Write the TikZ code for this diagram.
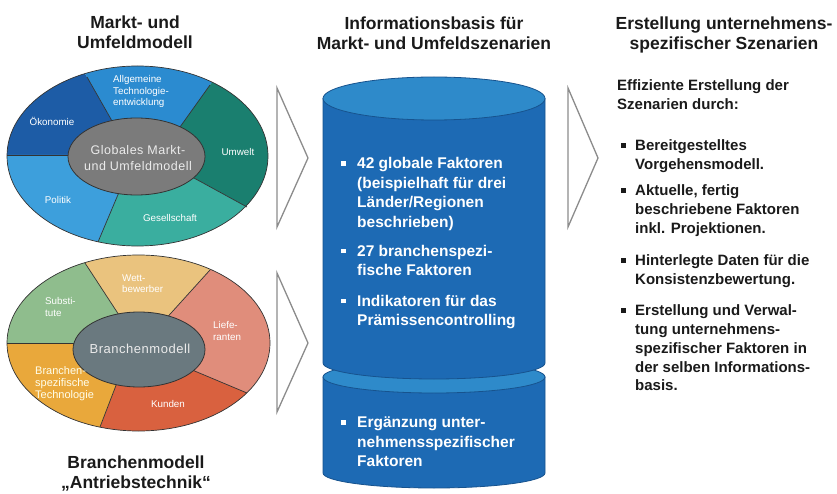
\documentclass[tikz,border=0pt]{standalone}
\usepackage{fontspec}
\setmainfont{Liberation Sans}
\usetikzlibrary{calc}

% wheel colours
\definecolor{oekonomie}{HTML}{1D5CA6}
\definecolor{allgemein}{HTML}{2B8BD0}
\definecolor{umwelt}{HTML}{1A7F6F}
\definecolor{gesell}{HTML}{3AAE9F}
\definecolor{politik}{HTML}{3D9FDC}
\definecolor{globalgray}{HTML}{7B7B7B}
\definecolor{substi}{HTML}{8FBD8D}
\definecolor{wettb}{HTML}{EAC37E}
\definecolor{liefer}{HTML}{E08D7B}
\definecolor{kunden}{HTML}{D9613F}
\definecolor{branspez}{HTML}{E9A83B}
\definecolor{branchgray}{HTML}{6A797F}
% database colours
\definecolor{dbbody}{HTML}{1D6AB4}
\definecolor{dbtop}{HTML}{2E8ACA}
\definecolor{dbline}{HTML}{17538E}
\definecolor{chevron}{HTML}{8C8C8C}
\definecolor{titletext}{HTML}{1A1A1A}

% square bullet in a box of the given width
\newcommand\sqb[1]{\makebox[#1][l]{\rule[0.2em]{4.4pt}{4.4pt}}}

\tikzset{
  wedgeline/.style={draw=black!80, line width=0.7pt},
  innerdisk/.style={draw=black!80, line width=0.8pt},
  seglabel/.style={text=white, font=\fontsize{9.8}{11.3}\selectfont, align=left, inner sep=0pt},
  hublabel/.style={text=black!8, font=\fontsize{12.5}{16}\selectfont\addfontfeatures{LetterSpace=4}, align=center, inner sep=0pt},
  coltitle/.style={text=titletext, font=\bfseries\fontsize{17.5}{20.5}\selectfont, align=center, inner sep=0pt, anchor=north},
  dbitem/.style={text=white, font=\bfseries\fontsize{15.5}{19.5}\selectfont, align=left, inner sep=0pt, anchor=north west},
  sideitem/.style={text=titletext, font=\bfseries\fontsize{15}{18.8}\selectfont, align=left, inner sep=0pt, anchor=north west},
  chevshape/.style={draw=chevron, line width=1.3pt, fill=white, line join=miter},
}

\begin{document}
\begin{tikzpicture}[x=1pt, y=-1pt]
\useasboundingbox (0,0) rectangle (837,494);

% ---------- column titles ----------
\node[coltitle] (t1) at (135,15.5) {Markt- und\\Umfeldmodell};
\node[coltitle] (t2) at (434,16.5) {Informationsbasis für\\Markt- und Umfeldszenarien};
\node[coltitle] (t3) at (724,16.5) {Erstellung unternehmens-\\spezifischer Szenarien};
\node[coltitle] (t4) at (136,455.5) {Branchenmodell\\„Antriebstechnik“};

% ---------- global market wheel ----------
\coordinate (tc) at (136.5,156.5);
\coordinate (tAo) at (87,77);   \coordinate (tAi) at (120,135);
\coordinate (tBo) at (210,85);  \coordinate (tBi) at (172.5,137.5);
\coordinate (tCo) at (247,207); \coordinate (tCi) at (183,172);
\coordinate (tDo) at (98,242);  \coordinate (tDi) at (122.7,183.5);
\coordinate (tEo) at (7,155);   \coordinate (tEi) at (80,155);
\begin{scope}
  \clip (137.5,156) ellipse [x radius=130.5pt, y radius=90pt];
  \fill[oekonomie] (tc) -- (tEi) -- ($(tEi)!2.5!(tEo)$) -- (-100,-20) -- ($(tAi)!2.5!(tAo)$) -- (tAi) -- cycle;
  \fill[allgemein] (tc) -- (tAi) -- ($(tAi)!2.5!(tAo)$) -- (140,-100) -- ($(tBi)!2.5!(tBo)$) -- (tBi) -- cycle;
  \fill[umwelt] (tc) -- (tBi) -- ($(tBi)!2.5!(tBo)$) -- (420,150) -- ($(tCi)!2.5!(tCo)$) -- (tCi) -- cycle;
  \fill[gesell] (tc) -- (tCi) -- ($(tCi)!2.5!(tCo)$) -- (200,420) -- ($(tDi)!2.5!(tDo)$) -- (tDi) -- cycle;
  \fill[politik] (tc) -- (tDi) -- ($(tDi)!2.5!(tDo)$) -- (-100,360) -- ($(tEi)!2.5!(tEo)$) -- (tEi) -- cycle;
\end{scope}
\foreach \b in {tA,tB,tC,tD,tE} \draw[wedgeline] (\b o) -- (\b i);
\draw[wedgeline] (137.5,156) ellipse [x radius=130.5pt, y radius=90pt];
\filldraw[innerdisk, fill=globalgray] (tc) ellipse [x radius=68.5pt, y radius=38.5pt];

\node[seglabel, anchor=west] (lallg) at (113,91.5) {Allgemeine\\Technologie-\\entwicklung};
\node[seglabel] (loek) at (52,121) {Ökonomie};
\node[seglabel] (lumw) at (238,152) {Umwelt};
\node[seglabel] (lpol) at (58,200) {Politik};
\node[seglabel] (lges) at (170,218) {Gesellschaft};
\node[hublabel] (lglob) at (138,158) {Globales Markt-\\und Umfeldmodell};

% ---------- industry wheel ----------
\coordinate (bc) at (139,349.5);
\coordinate (bAo) at (85,263);  \coordinate (bAi) at (126.6,326.7);
\coordinate (bBo) at (210,270); \coordinate (bBi) at (160.6,324.6);
\coordinate (bCo) at (247,393); \coordinate (bCi) at (182,365.7);
\coordinate (bDo) at (100,427); \coordinate (bDi) at (122,369.8);
\coordinate (bEo) at (7,343);   \coordinate (bEi) at (85,343);
\begin{scope}
  \clip (138.5,343) ellipse [x radius=131.5pt, y radius=88pt];
  \fill[substi] (bc) -- (bEi) -- ($(bEi)!2.5!(bEo)$) -- (-100,200) -- ($(bAi)!2.5!(bAo)$) -- (bAi) -- cycle;
  \fill[wettb] (bc) -- (bAi) -- ($(bAi)!2.5!(bAo)$) -- (140,120) -- ($(bBi)!2.5!(bBo)$) -- (bBi) -- cycle;
  \fill[liefer] (bc) -- (bBi) -- ($(bBi)!2.5!(bBo)$) -- (420,340) -- ($(bCi)!2.5!(bCo)$) -- (bCi) -- cycle;
  \fill[kunden] (bc) -- (bCi) -- ($(bCi)!2.5!(bCo)$) -- (200,580) -- ($(bDi)!2.5!(bDo)$) -- (bDi) -- cycle;
  \fill[branspez] (bc) -- (bDi) -- ($(bDi)!2.5!(bDo)$) -- (-100,520) -- ($(bEi)!2.5!(bEo)$) -- (bEi) -- cycle;
\end{scope}
\foreach \b in {bA,bB,bC,bD,bE} \draw[wedgeline] (\b o) -- (\b i);
\draw[wedgeline] (138.5,343) ellipse [x radius=131.5pt, y radius=88pt];
\filldraw[innerdisk, fill=branchgray] (bc) ellipse [x radius=66pt, y radius=37.5pt];

\node[seglabel, anchor=west] (lwett) at (122,284) {Wett-\\bewerber};
\node[seglabel, anchor=west] (lsub) at (45,307) {Substi-\\tute};
\node[seglabel, anchor=west] (llief) at (213,331) {Liefe-\\ranten};
\node[seglabel, anchor=west, text=white!92!yellow, font=\fontsize{11}{12}\selectfont] (lbsp) at (35,384) {Branchen-\\spezifische\\Technologie};
\node[seglabel] (lkun) at (168,404) {Kunden};
\node[hublabel, font=\fontsize{13}{16}\selectfont\addfontfeatures{LetterSpace=4}] (lbm) at (140,349) {Branchenmodell};

% ---------- process chevrons ----------
\draw[chevshape] (277,88) -- (308,158) -- (277,227) -- cycle;
\draw[chevshape] (277,273) -- (308,343) -- (277,412) -- cycle;
\draw[chevshape] (568,88) -- (598,158) -- (568,227) -- cycle;

% ---------- information base (two stacked cylinders) ----------
\filldraw[fill=dbbody, draw=dbline, line width=0.8pt]
  (323,377) -- (323,473) arc[start angle=180, end angle=360, x radius=111pt, y radius=15pt] -- (545,377) -- cycle;
\filldraw[fill=dbtop, draw=dbline, line width=0.8pt] (434,377) ellipse [x radius=111pt, y radius=16pt];
\filldraw[fill=dbbody, draw=dbline, line width=0.8pt]
  (323,98.5) -- (323,363) arc[start angle=180, end angle=360, x radius=111pt, y radius=16pt] -- (545,98.5) -- cycle;
\filldraw[fill=dbtop, draw=dbline, line width=0.8pt] (434,98.5) ellipse [x radius=111pt, y radius=21.5pt];

\node[dbitem] (d1) at (341,157.5) {\sqb{16pt}42 globale Faktoren\\\hspace*{16pt}(beispielhaft für drei\\\hspace*{16pt}Länder/Regionen\\\hspace*{16pt}beschrieben)};
\node[dbitem] (d2) at (341,244.7) {\sqb{16pt}27 branchenspezi-\\\hspace*{16pt}fische Faktoren};
\node[dbitem] (d3) at (341,294.7) {\sqb{16pt}Indikatoren für das\\\hspace*{16pt}Prämissencontrolling};
\node[dbitem] (d4) at (341,416.7) {\sqb{16pt}Ergänzung unter-\\\hspace*{16pt}nehmensspezifischer\\\hspace*{16pt}Faktoren};

% ---------- company scenario notes ----------
\node[sideitem] (s0) at (617,79.7) {Effiziente Erstellung der\\Szenarien durch:};
\node[sideitem] (s1) at (621,139.7) {\sqb{14pt}Bereitgestelltes\\\hspace*{14pt}Vorgehensmodell.};
\node[sideitem] (s2) at (621,184.7) {\sqb{14pt}Aktuelle, fertig\\\hspace*{14pt}beschriebene Faktoren\\\hspace*{14pt}inkl. Projektionen.};
\node[sideitem] (s3) at (621,254.7) {\sqb{14pt}Hinterlegte Daten für die\\\hspace*{14pt}Konsistenzbewertung.};
\node[sideitem] (s4) at (621,304.7) {\sqb{14pt}Erstellung und Verwal-\\\hspace*{14pt}tung unternehmens-\\\hspace*{14pt}spezifischer Faktoren in\\\hspace*{14pt}der selben Informations-\\\hspace*{14pt}basis.};
\end{tikzpicture}
\end{document}
